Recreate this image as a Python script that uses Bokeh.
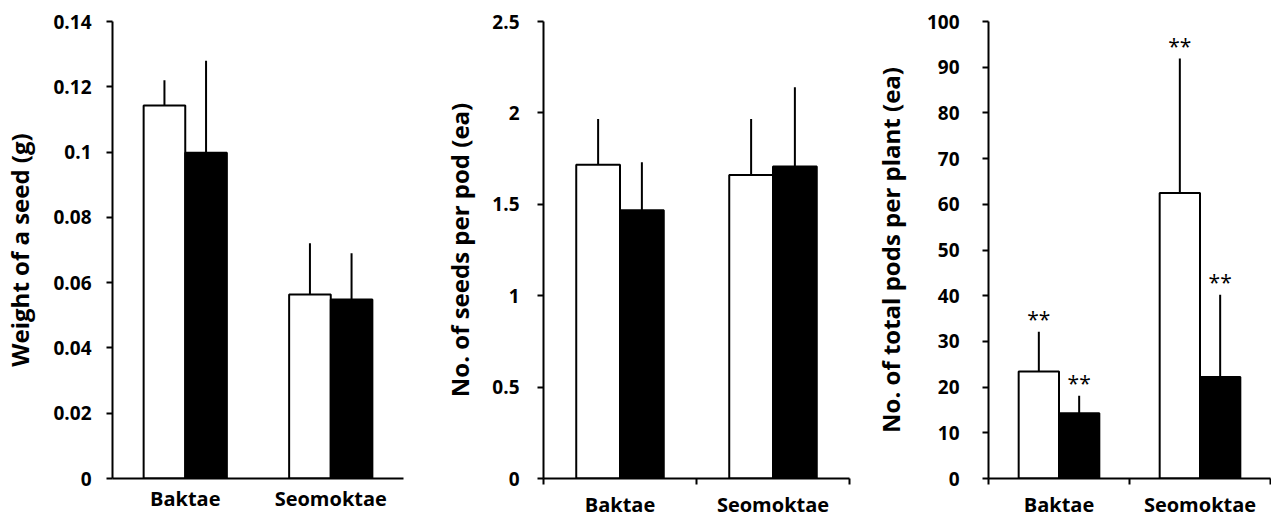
from bokeh.plotting import figure
from bokeh.layouts import row
from bokeh.models import FixedTicker, CustomJSTickFormatter, Range1d, ColumnDataSource
from bokeh.core.properties import value
from bokeh.embed import file_html
from bokeh.resources import INLINE

# ---- data ----
categories = ["Baktae", "Seomoktae"]

# Panel 1: weight of a seed (g)
weight_white = [0.1143, 0.0564]
weight_white_err = [0.0077, 0.0157]
weight_black = [0.0998, 0.0548]
weight_black_err = [0.0282, 0.0142]
weight_ticks = [0, 0.02, 0.04, 0.06, 0.08, 0.1, 0.12, 0.14]

# Panel 2: seeds per pod
seeds_white = [1.717, 1.660]
seeds_white_err = [0.250, 0.307]
seeds_black = [1.468, 1.707]
seeds_black_err = [0.262, 0.433]
seeds_ticks = [0, 0.5, 1, 1.5, 2, 2.5]

# Panel 3: total pods per plant
pods_white = [23.4, 62.5]
pods_white_err = [8.7, 29.4]
pods_black = [14.3, 22.2]
pods_black_err = [3.8, 18.0]
pods_ticks = [0, 10, 20, 30, 40, 50, 60, 70, 80, 90, 100]
pods_white_sig = ["**", "**"]
pods_black_sig = ["**", "**"]

FONT = "Open Sans"
BAR_W = 0.286
H = 520


def make_panel(width, border_left, border_right, border_top, border_bottom,
               white, white_err, black, black_err, ticks, ylabel,
               label_standoff, title_standoff, boundary_ticks,
               white_sig=None, black_sig=None):
    p = figure(width=width, height=H, output_backend="svg", toolbar_location=None,
               x_range=Range1d(0, 2), y_range=Range1d(ticks[0], ticks[-1]),
               min_border_left=border_left, min_border_right=border_right,
               min_border_top=border_top, min_border_bottom=border_bottom)
    p.outline_line_color = None
    p.xgrid.visible = False
    p.ygrid.visible = False
    p.background_fill_color = "white"
    p.border_fill_color = "white"

    centers = [i + 0.5 for i in range(len(categories))]
    xw = [c - BAR_W / 2 for c in centers]
    xb = [c + BAR_W / 2 for c in centers]

    src_w = ColumnDataSource(dict(x=xw, top=white, up=[m + e for m, e in zip(white, white_err)]))
    src_b = ColumnDataSource(dict(x=xb, top=black, up=[m + e for m, e in zip(black, black_err)]))

    # error bars (upper only)
    p.segment(x0="x", y0="top", x1="x", y1="up", source=src_w, line_color="black", line_width=2)
    p.segment(x0="x", y0="top", x1="x", y1="up", source=src_b, line_color="black", line_width=2)

    p.vbar(x="x", top="top", bottom=0, width=BAR_W, source=src_w,
           fill_color="white", line_color="black", line_width=2)
    p.vbar(x="x", top="top", bottom=0, width=BAR_W, source=src_b,
           fill_color="black", line_color="black", line_width=2)

    if white_sig is not None:
        src_w.data["sig"] = white_sig
        src_b.data["sig"] = black_sig
        for s in (src_w, src_b):
            p.text(x="x", y="up", text="sig", source=s, text_align="center",
                   text_baseline="bottom", text_font=value(FONT), text_font_size="21px",
                   text_color="black", y_offset=1)

    # y axis
    ya = p.yaxis[0]
    ya.ticker = FixedTicker(ticks=ticks)
    ya.formatter = CustomJSTickFormatter(code="return (Math.round(tick*1000)/1000).toString();")
    ya.axis_label = ylabel
    ya.axis_label_text_font = FONT
    ya.axis_label_text_font_style = "bold"
    ya.axis_label_text_font_size = "24px"
    ya.axis_label_text_color = "black"
    ya.axis_label_standoff = title_standoff
    ya.major_label_text_font = FONT
    ya.major_label_text_font_style = "bold"
    ya.major_label_text_font_size = "19px"
    ya.major_label_text_color = "black"
    ya.major_label_standoff = label_standoff
    ya.axis_line_width = 2
    ya.axis_line_color = "black"
    ya.major_tick_in = 0
    ya.major_tick_out = 6
    ya.major_tick_line_width = 2
    ya.major_tick_line_color = "black"
    ya.minor_tick_line_color = None

    # x axis: category names at centres, boundary ticks as minor ticks
    xa = p.xaxis[0]
    xa.ticker = FixedTicker(ticks=centers, minor_ticks=([0, 1, 2] if boundary_ticks else []))
    xa.formatter = CustomJSTickFormatter(args=dict(labels=categories),
                                         code="return labels[Math.floor(tick)];")
    xa.major_label_text_font = FONT
    xa.major_label_text_font_style = "bold"
    xa.major_label_text_font_size = "20px"
    xa.major_label_text_color = "black"
    xa.major_label_standoff = 6
    xa.axis_label_standoff = 0
    xa.axis_line_width = 2
    xa.axis_line_color = "black"
    xa.major_tick_in = 0
    xa.major_tick_out = 0
    xa.major_tick_line_color = None
    xa.minor_tick_in = 0
    xa.minor_tick_out = 6
    xa.minor_tick_line_width = 2
    xa.minor_tick_line_color = "black"
    return p


p1 = make_panel(440, 108, 37, 21, H - 478, weight_white, weight_white_err, weight_black,
                weight_black_err, weight_ticks, "Weight of a seed (g)", 15, 14, False)
p2 = make_panel(430, 97, 21, 19, H - 480, seeds_white, seeds_white_err, seeds_black,
                seeds_black_err, seeds_ticks, "No. of seeds per pod (ea)", 18, 13, True)
p3 = make_panel(401, 114, 1, 20, H - 480, pods_white, pods_white_err, pods_black,
                pods_black_err, pods_ticks, "No. of total pods per plant (ea)", 23, 17, True,
                pods_white_sig, pods_black_sig)

layout = row(p1, p2, p3)
open("out.html", "w").write(file_html(layout, INLINE))
